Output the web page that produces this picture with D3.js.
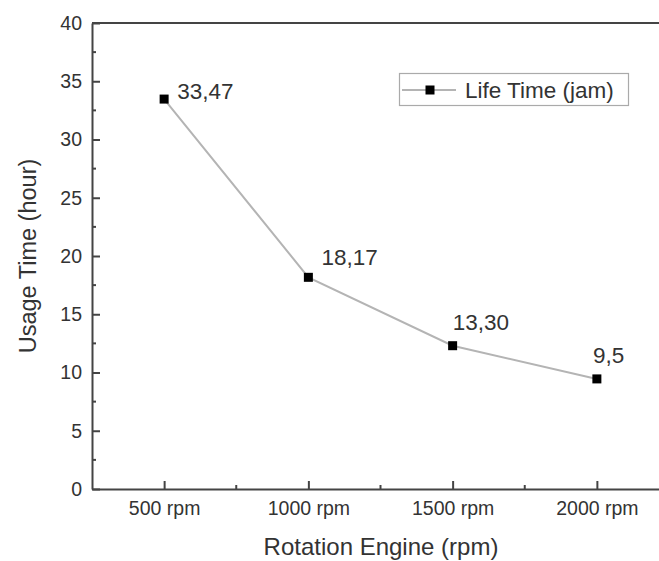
<!DOCTYPE html>
<html>
<head>
<meta charset="utf-8">
<script src="https://cdn.jsdelivr.net/npm/d3@7"></script>
<style>
  html, body { margin: 0; padding: 0; background: #fff; }
  svg { display: block; font-family: "Liberation Sans", Arial, sans-serif; }
</style>
</head>
<body>
<svg id="chart" width="659" height="561"></svg>
<script>
// ---- data ----
const categories = ["500 rpm", "1000 rpm", "1500 rpm", "2000 rpm"];
const lifeTime = [33.47, 18.17, 12.3, 9.45];
const pointLabels = ["33,47", "18,17", "13,30", "9,5"];
const yTicks = [0, 5, 10, 15, 20, 25, 30, 35, 40];
const seriesName = "Life Time (jam)";
const xTitle = "Rotation Engine (rpm)";
const yTitle = "Usage Time (hour)";

// label offsets (style)
const labelOffsets = [[13, 0], [13, -12], [0, -16], [-4, -16]];

const svg = d3.select("#chart");
const axisColor = "#444";
const textColor = "#333";

const x = d3.scaleLinear().domain([0.5, 4.5]).range([92, 669]);
const y = d3.scaleLinear().domain([0, 40]).range([489, 23]);

// top frame line (extends past the window edge)
svg.append("line").attr("x1", 92).attr("x2", 700).attr("y1", y(40)).attr("y2", y(40))
  .attr("stroke", axisColor).attr("stroke-width", 2);

// Y axis
const yAxis = d3.axisLeft(y).tickValues(yTicks).tickSize(0).tickPadding(10);
const gy = svg.append("g").attr("transform", "translate(92,0)").call(yAxis);
gy.select(".domain").attr("stroke", axisColor).attr("stroke-width", 2);
gy.selectAll("text").attr("font-size", 19.5).attr("fill", textColor)
  .attr("font-family", "Liberation Sans, Arial, sans-serif");
gy.selectAll(".tick").append("line").attr("x1", 0).attr("x2", 8)
  .attr("stroke", axisColor).attr("stroke-width", 2);
const yMinor = d3.range(2.5, 40, 5);
svg.append("g").selectAll("line").data(yMinor).join("line")
  .attr("x1", 92).attr("x2", 96).attr("y1", d => y(d)).attr("y2", d => y(d))
  .attr("stroke", axisColor).attr("stroke-width", 2);

// X axis
const xAxis = d3.axisBottom(x).tickValues([1, 2, 3, 4])
  .tickFormat((d, i) => categories[i]).tickSize(0).tickPadding(12);
const gx = svg.append("g").attr("transform", `translate(0,${y(0)})`).call(xAxis);
gx.select(".domain").attr("stroke", axisColor).attr("stroke-width", 2);
gx.selectAll("text").attr("font-size", 19.5).attr("fill", textColor)
  .attr("font-family", "Liberation Sans, Arial, sans-serif");
gx.selectAll(".tick").append("line").attr("y1", 0).attr("y2", -8)
  .attr("stroke", axisColor).attr("stroke-width", 2);
const xMinor = [1.5, 2.5, 3.5];
svg.append("g").selectAll("line").data(xMinor).join("line")
  .attr("x1", d => x(d)).attr("x2", d => x(d)).attr("y1", y(0)).attr("y2", y(0) - 4)
  .attr("stroke", axisColor).attr("stroke-width", 2);

// Axis titles
svg.append("text").attr("x", 381).attr("y", 555).attr("text-anchor", "middle")
  .attr("font-size", 24).attr("fill", textColor).text(xTitle);
svg.append("text").attr("transform", `translate(36,${(y(0) + y(40)) / 2}) rotate(-90)`)
  .attr("text-anchor", "middle").attr("font-size", 23.5).attr("fill", textColor).text(yTitle);

// Series line
svg.append("path").datum(lifeTime)
  .attr("d", d3.line().x((d, i) => x(i + 1)).y(d => y(d)))
  .attr("fill", "none").attr("stroke", "#b4b4b4").attr("stroke-width", 2);

// markers
const ms = 9;
svg.append("g").selectAll("rect").data(lifeTime).join("rect")
  .attr("x", (d, i) => x(i + 1) - ms / 2).attr("y", d => y(d) - ms / 2)
  .attr("width", ms).attr("height", ms).attr("fill", "#000");

// point labels
svg.append("g").selectAll("text").data(lifeTime).join("text")
  .attr("x", (d, i) => x(i + 1) + labelOffsets[i][0])
  .attr("y", (d, i) => y(d) + labelOffsets[i][1])
  .attr("font-size", 22.5).attr("fill", textColor)
  .text((d, i) => pointLabels[i]);

// legend
const lg = svg.append("g");
lg.append("rect").attr("x", 399.5).attr("y", 73.5).attr("width", 229).attr("height", 32)
  .attr("fill", "#fff").attr("stroke", "#aaa").attr("stroke-width", 1.2);
lg.append("line").attr("x1", 402).attr("x2", 456).attr("y1", 90).attr("y2", 90)
  .attr("stroke", "#b4b4b4").attr("stroke-width", 2);
lg.append("rect").attr("x", 430 - ms / 2).attr("y", 90 - ms / 2).attr("width", ms).attr("height", ms)
  .attr("fill", "#000");
lg.append("text").attr("x", 465).attr("y", 98).attr("font-size", 22.5).attr("fill", textColor)
  .text(seriesName);
</script>
</body>
</html>
